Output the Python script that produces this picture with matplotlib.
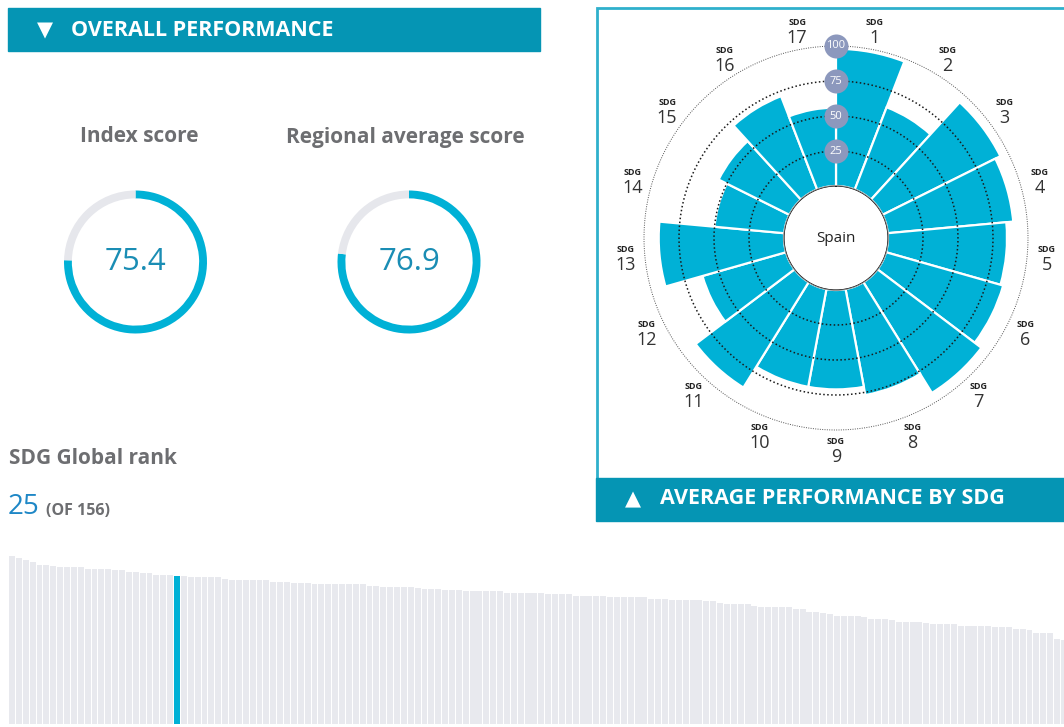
import matplotlib.pyplot as plt
import numpy as np
from matplotlib.patches import Rectangle

W, H = 1064, 727

TEAL_DARK = '#0595b4'
TEAL = '#00b1d6'
BORDER = '#2fb0cc'
GRAY_BAR = '#e8e9ee'
RING_GRAY = '#e6e7ec'
TEXT_GRAY = '#6d6e71'

# overall scores
INDEX_SCORE = 75.4
REGIONAL_SCORE = 76.9
RANK = 25
N_COUNTRIES = 156

# average performance by SDG (Spain)
SDG_LABELS = [str(i) for i in range(1, 18)]
SDG_SCORES = [98, 63, 94, 90, 85, 87, 93, 77, 71, 71, 88.5, 62, 89.5, 50, 56.5, 71.5, 56]
RING_TICKS = [25, 50, 75, 100]

# global index scores, ranked
RANK_SCORES = [
    85.6, 84.9, 83.7, 82.8, 81.3, 81.3, 80.4, 79.9, 79.9, 79.9, 79.9, 79.2, 79.1,
    79.1, 79.1, 78.6, 78.4, 77.7, 77.7, 77.0, 76.9, 76.2, 76.2, 76.2, 75.4, 75.4,
    74.8, 74.8, 74.8, 74.8, 74.8, 74.1, 73.5, 73.5, 73.5, 73.5, 73.5, 73.5,
    72.6, 72.6, 72.6, 71.9, 71.9, 71.9, 71.3, 71.3, 71.3, 71.3, 71.3, 71.3, 71.3,
    71.3, 70.6, 70.6, 69.9, 69.9, 69.9, 69.9, 69.9, 69.5, 69.0, 69.0, 69.0, 68.5,
    68.4, 68.4, 67.7, 67.7, 67.7, 67.7, 67.7, 67.7, 67.0, 67.0, 67.0, 67.0,
    66.8, 66.8, 66.2, 66.2, 66.2, 66.2, 65.5, 65.5, 65.5, 65.5, 65.5, 64.6, 64.6,
    64.6, 64.6, 64.6, 64.6, 63.9, 63.9, 63.9, 63.3, 63.3, 63.3, 63.3, 63.3, 62.6,
    62.6, 61.9, 61.2, 61.2, 61.2, 61.2, 60.4, 59.7, 59.7, 59.7, 59.7, 59.7,
    58.8, 58.7, 57.3, 57.3, 56.6, 56.0, 55.3, 55.3, 55.3, 55.3, 54.4, 53.7, 53.7,
    53.7, 53.1, 52.2, 52.2, 52.2, 52.2, 51.5, 50.9, 50.9, 50.9, 50.9, 50.2, 50.2,
    50.2, 50.2, 50.2, 49.3, 49.3, 49.3, 48.6, 48.6, 48.0, 46.4, 46.4, 46.4, 43.5,
    42.9, 41.5, 36.4,
]

FONT = ['Open Sans', 'DejaVu Sans']
plt.rcParams['font.family'] = FONT


def fx(x):
    return x / W


def fy(y):
    return 1 - y / H


def px_axes(fig, x0, y0, x1, y1, **kw):
    # axes placed by pixel box (top-left origin)
    return fig.add_axes([fx(x0), fy(y1), (x1 - x0) / W, (y1 - y0) / H], **kw)


def donut(fig, cx, cy, r, value):
    ax = px_axes(fig, cx - r, cy - r, cx + r, cy + r)
    ax.pie([value, 100 - value], colors=[TEAL, RING_GRAY], startangle=90,
           counterclock=False, radius=1, wedgeprops=dict(width=0.11, edgecolor='none'))
    ax.set_xlim(-1, 1)
    ax.set_ylim(-1, 1)
    ax.text(0, 0, f'{value:.1f}', ha='center', va='center', fontsize=22.5,
            color='#1a8db4')


def main():
    fig = plt.figure(figsize=(W / 100, H / 100), dpi=100)

    # header left
    fig.add_artist(Rectangle((fx(8), fy(51)), 532 / W, 43 / H, color=TEAL_DARK,
                             transform=fig.transFigure))
    fig.text(fx(37), fy(30), '\u25bc', color='white', fontsize=15,
             va='center', family=['DejaVu Sans'])
    fig.text(fx(71), fy(30), 'OVERALL PERFORMANCE', color='white',
             fontsize=15.5, fontweight='bold', va='center')

    fig.text(fx(139), fy(137), 'Index score', ha='center', va='center',
             fontsize=15, fontweight='bold', color=TEXT_GRAY)
    fig.text(fx(405), fy(137), 'Regional average score', ha='center',
             va='center', fontsize=15, fontweight='bold', color=TEXT_GRAY)

    donut(fig, 135.5, 262, 71.5, INDEX_SCORE)
    donut(fig, 409, 262, 71.5, REGIONAL_SCORE)

    fig.text(fx(9), fy(458), 'SDG Global rank', va='center', fontsize=15,
             fontweight='bold', color=TEXT_GRAY)
    fig.text(fx(8), fy(507), str(RANK), va='center', fontsize=20,
             color='#1e87c6')
    fig.text(fx(46), fy(511), f'(OF {N_COUNTRIES})', va='center', fontsize=11.5,
             fontweight='bold', color=TEXT_GRAY)

    # ranking bars
    axb = px_axes(fig, 9, 724 - 1.96 * 88, 1064, 724)
    pos = np.arange(1, len(RANK_SCORES) + 1)
    colors = [TEAL if p == RANK else GRAY_BAR for p in pos]
    axb.bar(pos, RANK_SCORES, width=0.86, color=colors, linewidth=0)
    axb.set_xlim(0.57, 0.57 + (1064 - 9) / 6.875)
    axb.set_ylim(0, 88)
    axb.axis('off')

    # SDG polar box
    fig.add_artist(Rectangle((fx(597), fy(519)), (1070 - 597) / W, (519 - 8) / H,
                             facecolor='none', edgecolor=BORDER, linewidth=2,
                             transform=fig.transFigure))
    fig.add_artist(Rectangle((fx(596), fy(521)), (1070 - 596) / W, 43 / H,
                             color=TEAL_DARK, transform=fig.transFigure))
    fig.text(fx(625), fy(499), '\u25b2', color='white', fontsize=15,
             va='center', family=['DejaVu Sans'])
    fig.text(fx(660), fy(499), 'AVERAGE PERFORMANCE BY SDG', color='white',
             fontsize=15.5, fontweight='bold', va='center')

    cx, cy, R = 836, 238, 192
    axp = px_axes(fig, cx - R, cy - R, cx + R, cy + R, projection='polar')
    axp.set_theta_zero_location('N')
    axp.set_theta_direction(-1)
    axp.set_rorigin(-37.14)
    axp.set_ylim(0, 100)
    n = len(SDG_SCORES)
    step = 2 * np.pi / n
    theta = (np.arange(n) + 0.5) * step
    axp.bar(theta, SDG_SCORES, width=step, bottom=0, color=TEAL,
            edgecolor='white', linewidth=1.6, zorder=2)
    circ = np.linspace(0, 2 * np.pi, 400)
    for t in RING_TICKS[:-1]:
        axp.plot(circ, np.full_like(circ, t), color='#1a1a1a',
                 linestyle=(0, (1, 1.6)), linewidth=1.1, zorder=3)
    axp.plot(circ, np.full_like(circ, 100), color='#555555',
             linestyle=(0, (1, 1.4)), linewidth=0.7, zorder=3, clip_on=False)
    axp.plot(circ, np.zeros_like(circ), color='#b5b5b5', linewidth=0.8, zorder=3)
    axp.scatter(np.zeros(len(RING_TICKS)), RING_TICKS, s=300, color='#8c98bd',
                zorder=5, clip_on=False, linewidths=0)
    for t in RING_TICKS:
        axp.text(0, t, str(t), ha='center', va='center', color='white',
                 fontsize=8, zorder=6, clip_on=False)
    for th, lab in zip(theta, SDG_LABELS):
        axp.annotate('SDG', xy=(th, 114), xytext=(0, 5.5), textcoords='offset points',
                     ha='center', va='center', fontsize=6.5, fontweight='bold',
                     color='#222222', annotation_clip=False)
        axp.annotate(lab, xy=(th, 114), xytext=(0, -5.5), textcoords='offset points',
                     ha='center', va='center', fontsize=13, color='#333333',
                     annotation_clip=False)
    axp.text(0.5, 0.5, 'Spain', transform=axp.transAxes, ha='center',
             va='center', fontsize=11, color='#222222')
    axp.set_xticks([])
    axp.set_yticks([])
    axp.grid(False)
    axp.spines['polar'].set_visible(False)

    fig.savefig('out.png', dpi=100)


if __name__ == '__main__':
    main()
